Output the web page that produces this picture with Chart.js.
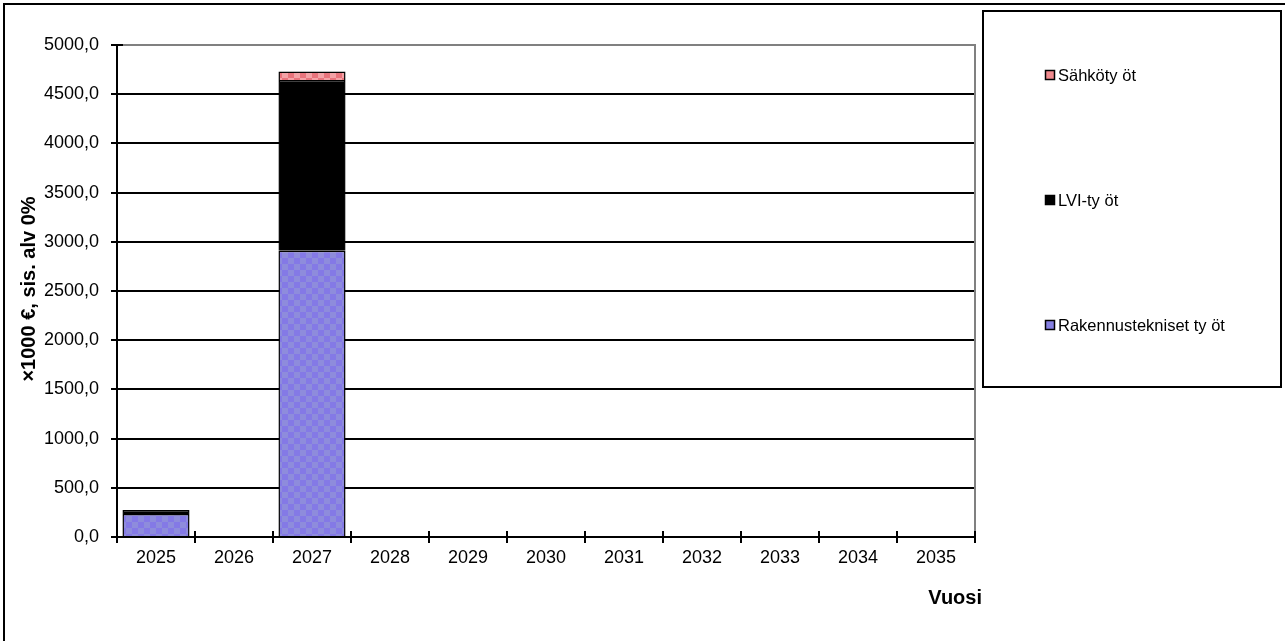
<!DOCTYPE html>
<html>
<head>
<meta charset="utf-8">
<script src="https://cdn.jsdelivr.net/npm/chart.js@4/dist/chart.umd.min.js"></script>
<style>
  html, body { margin: 0; padding: 0; background: #fff; }
  #wrap { width: 1285px; height: 641px; position: relative; }
</style>
</head>
<body>
<div id="wrap"><canvas id="c" width="1285" height="641"></canvas></div>
<script>
// Vuodet (x-akseli)
const years = ['2025', '2026', '2027', '2028', '2029', '2030', '2031', '2032', '2033', '2034', '2035'];
// Kustannukset, x1000 €
const rakennustekniset = [235, 0, 2910, 0, 0, 0, 0, 0, 0, 0, 0];
const lviTyot = [40, 0, 1735, 0, 0, 0, 0, 0, 0, 0, 0];
const sahkotyot = [0, 0, 85, 0, 0, 0, 0, 0, 0, 0, 0];
// Y-akselin asteikko
const yMin = 0, yMax = 5000, yStep = 500;

const FONT = "'Liberation Sans', Arial, sans-serif";

function checker(c1, c2, size) {
  const p = document.createElement('canvas');
  p.width = size * 2; p.height = size * 2;
  const g = p.getContext('2d');
  g.fillStyle = c1; g.fillRect(0, 0, size * 2, size * 2);
  g.fillStyle = c2; g.fillRect(size, 0, size, size); g.fillRect(0, size, size, size);
  return document.getElementById('c').getContext('2d').createPattern(p, 'repeat');
}

const bluePattern = checker('#8479e6', '#8e8cdc', 6);
const pinkPattern = checker('#e8747c', '#f4a2a6', 6);

const series = [
  { label: 'Rakennustekniset ty öt', data: rakennustekniset, fill: bluePattern, swatch: '#8680e2' },
  { label: 'LVI-ty öt', data: lviTyot, fill: '#000000', swatch: '#000000' },
  { label: 'Sähköty öt', data: sahkotyot, fill: pinkPattern, swatch: '#f08a8e' }
];

const frame = {
  id: 'frame',
  beforeDraw(chart) {
    const ctx = chart.ctx;
    ctx.save();
    ctx.fillStyle = '#fff';
    ctx.fillRect(0, 0, chart.width, chart.height);
    // outer border
    ctx.strokeStyle = '#000';
    ctx.lineWidth = 2;
    ctx.beginPath();
    ctx.moveTo(4, 641); ctx.lineTo(4, 4); ctx.lineTo(1285, 4);
    ctx.stroke();
    ctx.restore();
  },
  afterDraw(chart) {
    const ctx = chart.ctx;
    const a = chart.chartArea;
    const y = chart.scales.y;
    ctx.save();
    // plot frame top/right
    ctx.strokeStyle = '#808080';
    ctx.lineWidth = 2;
    ctx.beginPath();
    ctx.moveTo(a.left, a.top); ctx.lineTo(a.right, a.top); ctx.lineTo(a.right, a.bottom);
    ctx.stroke();
    // axes
    ctx.strokeStyle = '#000';
    ctx.beginPath();
    ctx.moveTo(a.left, a.top); ctx.lineTo(a.left, a.bottom); ctx.lineTo(a.right, a.bottom);
    ctx.stroke();
    // y tick marks
    for (let v = yMin; v <= yMax; v += yStep) {
      const py = Math.round(y.getPixelForValue(v));
      ctx.beginPath(); ctx.moveTo(a.left - 6, py); ctx.lineTo(a.left + 6, py); ctx.stroke();
    }
    // x tick marks at category boundaries
    const n = years.length;
    const w = (a.right - a.left) / n;
    for (let i = 0; i <= n; i++) {
      const px = Math.round(a.left + i * w);
      ctx.beginPath(); ctx.moveTo(px, a.bottom - 6); ctx.lineTo(px, a.bottom + 6); ctx.stroke();
    }
    // axis titles
    ctx.fillStyle = '#000';
    ctx.font = 'bold 20px ' + FONT;
    ctx.textAlign = 'center';
    ctx.textBaseline = 'middle';
    ctx.save();
    ctx.translate(29, 289);
    ctx.rotate(-Math.PI / 2);
    ctx.fillText('×1000 €, sis. alv 0%', 0, 0);
    ctx.restore();
    ctx.font = 'bold 20px ' + FONT;
    ctx.textAlign = 'right';
    ctx.fillText('Vuosi', 982, 598);
    // legend box
    ctx.lineWidth = 2;
    ctx.strokeRect(983, 11, 298, 376);
    ctx.font = '16.5px ' + FONT;
    ctx.textAlign = 'left';
    const ys = [75, 200, 325];
    const order = [2, 1, 0];
    order.forEach((di, k) => {
      const ds = chart.data.datasets[di];
      const s = series[di];
      ctx.fillStyle = s.swatch;
      ctx.fillRect(1045, ys[k] - 5, 10, 10);
      ctx.lineWidth = 1.5;
      ctx.strokeStyle = '#000';
      ctx.strokeRect(1045.5, ys[k] - 4.5, 9, 9);
      ctx.fillStyle = '#000';
      ctx.fillText(ds.label, 1058, ys[k] + 1);
    });
    ctx.restore();
  }
};

new Chart(document.getElementById('c'), {
  type: 'bar',
  data: {
    labels: years,
    datasets: series.map(s => ({
      label: s.label,
      data: s.data,
      backgroundColor: s.fill,
      borderColor: '#000',
      borderWidth: ctx => (ctx.raw ? 1.5 : 0),
      borderSkipped: 'bottom',
      categoryPercentage: 1,
      barPercentage: 0.86
    }))
  },
  options: {
    responsive: false,
    animation: false,
    events: [],
    layout: { padding: { left: 0, top: 45, right: 310, bottom: 0 } },
    plugins: { legend: { display: false }, tooltip: { enabled: false } },
    scales: {
      x: {
        stacked: true,
        offset: true,
        grid: { display: false, drawTicks: false },
        border: { display: false },
        ticks: { color: '#000', font: { family: FONT, size: 18 }, padding: 10, maxRotation: 0, autoSkip: false },
        afterFit: s => { s.height = 104; }
      },
      y: {
        stacked: true,
        min: yMin,
        max: yMax,
        grid: {
          drawTicks: false,
          color: c => (c.tick && c.tick.value === yMax ? '#808080' : '#000'),
          lineWidth: 2
        },
        border: { display: false },
        ticks: {
          stepSize: yStep,
          color: '#000',
          font: { family: FONT, size: 18 },
          padding: 18,
          callback: v => v.toFixed(1).replace('.', ',')
        },
        afterFit: s => { s.width = 117; }
      }
    }
  },
  plugins: [frame]
});
</script>
</body>
</html>
